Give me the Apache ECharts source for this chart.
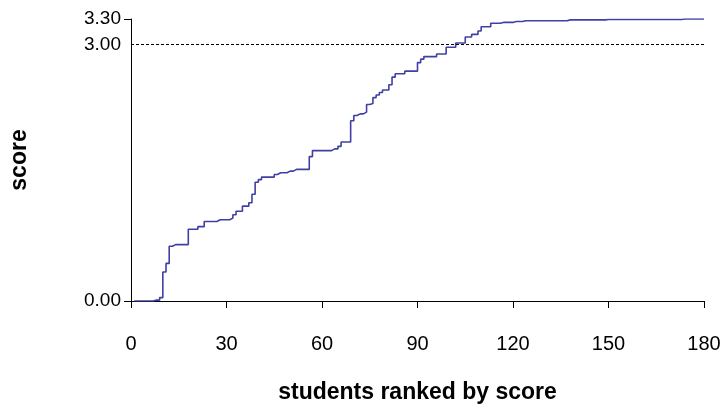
<!DOCTYPE html>
<html>
<head>
<meta charset="utf-8">
<script src="https://cdn.jsdelivr.net/npm/echarts@6/dist/echarts.min.js"></script>
<style>
html,body{margin:0;padding:0;background:#fff;}
#c{width:724px;height:409px;}
</style>
</head>
<body>
<div id="c"></div>
<script>
// Students ranked by score (1..180)
const students = Array.from({length: 180}, (_, k) => k + 1);
const scores = [
  0,0,0,0,0,0,0,0.01,0.01,0.04,
  0.34,0.44,0.64,0.66,0.66,0.66,0.66,0.66,0.84,0.84,
  0.84,0.87,0.87,0.93,0.93,0.93,0.93,0.95,0.95,0.95,
  0.95,0.97,1.01,1.05,1.05,1.11,1.11,1.15,1.25,1.39,
  1.42,1.45,1.45,1.45,1.45,1.48,1.50,1.50,1.50,1.52,
  1.52,1.54,1.54,1.54,1.54,1.54,1.69,1.76,1.76,1.76,
  1.76,1.76,1.76,1.78,1.78,1.81,1.86,1.86,1.86,2.11,
  2.17,2.19,2.19,2.21,2.30,2.31,2.38,2.41,2.44,2.47,
  2.47,2.53,2.62,2.66,2.66,2.66,2.69,2.69,2.69,2.69,
  2.79,2.83,2.86,2.86,2.86,2.86,2.89,2.89,2.89,2.97,
  2.97,2.97,3.02,3.02,3.02,3.09,3.09,3.12,3.12,3.16,
  3.21,3.21,3.21,3.25,3.25,3.25,3.26,3.26,3.26,3.26,
  3.27,3.27,3.27,3.28,3.28,3.28,3.28,3.28,3.28,3.28,
  3.28,3.28,3.28,3.28,3.28,3.28,3.28,3.29,3.29,3.29,
  3.29,3.29,3.29,3.29,3.29,3.29,3.29,3.29,3.29,3.295,
  3.295,3.295,3.295,3.295,3.295,3.295,3.295,3.295,3.295,3.295,
  3.295,3.295,3.295,3.295,3.295,3.295,3.295,3.295,3.295,3.295,
  3.295,3.295,3.295,3.30,3.30,3.30,3.30,3.30,3.30,3.30
];
const xTicks = [0, 30, 60, 90, 120, 150, 180];
const yTicks = [0, 3.3];
const thresholdValue = 3.0;
const thresholdLabel = '3.00';

const FONT = '"Liberation Sans", Arial, sans-serif';
const chart = echarts.init(document.getElementById('c'), null, {renderer: 'canvas'});
chart.setOption({
  animation: false,
  backgroundColor: '#ffffff',
  grid: {left: 123, right: 20, top: 19, bottom: 97, containLabel: false},
  xAxis: {
    type: 'value', min: xTicks[0], max: xTicks[xTicks.length - 1], interval: 30,
    name: 'students ranked by score', nameLocation: 'middle', nameGap: 80,
    nameTextStyle: {fontFamily: FONT, fontSize: 23, fontWeight: 'bold', color: '#000'},
    axisLine: {show: true, lineStyle: {color: '#000', width: 1}},
    axisTick: {show: true, length: 7, lineStyle: {color: '#000'}},
    axisLabel: {margin: 33, fontFamily: FONT, fontSize: 20, color: '#000'},
    splitLine: {show: false}
  },
  yAxis: {
    type: 'value', min: yTicks[0], max: yTicks[1], interval: 3.3,
    name: 'score', nameLocation: 'middle', nameGap: 100, nameRotate: 90,
    nameTextStyle: {fontFamily: FONT, fontSize: 23, fontWeight: 'bold', color: '#000'},
    axisLine: {show: true, lineStyle: {color: '#000', width: 1}},
    axisTick: {show: true, length: 7, lineStyle: {color: '#000'}},
    axisLabel: {margin: 10, fontFamily: FONT, fontSize: 19, color: '#000',
      formatter: v => v.toFixed(2)},
    splitLine: {show: false}
  },
  series: [{
    type: 'line',
    data: students.map((s, k) => [s, scores[k]]),
    step: 'start',
    showSymbol: false,
    lineStyle: {color: '#4040a4', width: 1.6},
    markLine: {
      silent: true, symbol: ['none', 'none'],
      lineStyle: {color: '#000', type: [3, 2], width: 1},
      label: {show: true, position: 'start', formatter: thresholdLabel, distance: 10,
        fontFamily: FONT, fontSize: 19, color: '#000'},
      data: [{yAxis: thresholdValue}]
    }
  }]
});
</script>
</body>
</html>
